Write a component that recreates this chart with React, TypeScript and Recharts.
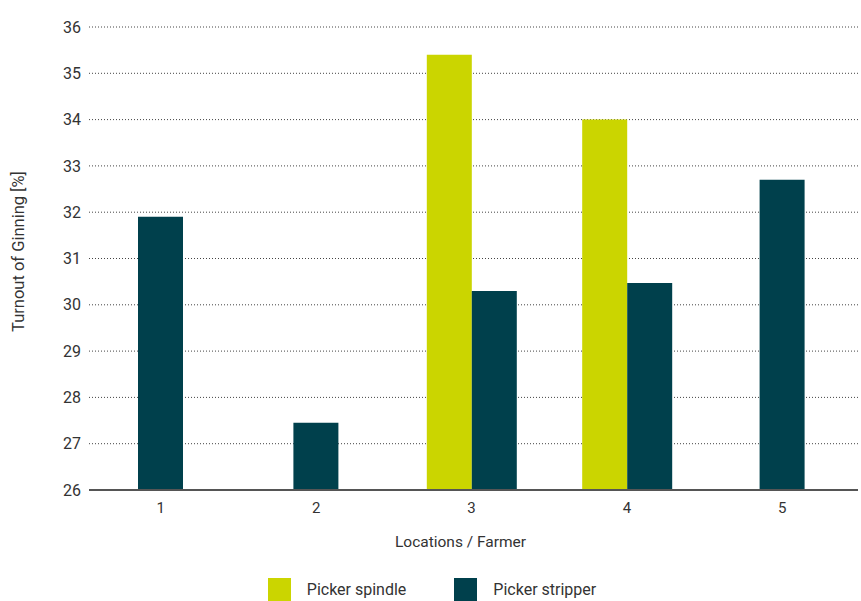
import React from 'react';
import { BarChart, Bar, XAxis, YAxis, CartesianGrid, Legend } from 'recharts';

const locations = ['1', '2', '3', '4', '5'];
const spindle = [null, null, 35.4, 34.0, null];
const stripper = [31.9, 27.45, 30.3, 30.47, 32.7];
const yTicks = [26, 27, 28, 29, 30, 31, 32, 33, 34, 35, 36];

const SPINDLE_COLOR = '#CBD500';
const STRIPPER_COLOR = '#00404C';
const TEXT_COLOR = '#333333';
const FONT = 'Roboto, "Noto Sans", sans-serif';

// bars sharing a location with a spindle bar sit side by side, lone ones get centered
const data = locations.map((loc, i) => ({
  location: loc,
  spindle: spindle[i],
  stripperPair: spindle[i] != null ? stripper[i] : null,
  stripperSolo: spindle[i] == null ? stripper[i] : null,
}));

const legendItems = [
  { name: 'Picker spindle', color: SPINDLE_COLOR },
  { name: 'Picker stripper', color: STRIPPER_COLOR },
];

function LegendContent() {
  return (
    <div style={{ height: 36, display: 'flex', justifyContent: 'center', alignItems: 'flex-end', gap: 48, paddingLeft: 6 }}>
      {legendItems.map((item) => (
        <div key={item.name} style={{ display: 'flex', alignItems: 'center' }}>
          <div style={{ width: 23, height: 23, backgroundColor: item.color, marginRight: 16 }} />
          <span style={{ fontFamily: FONT, fontSize: 16, color: TEXT_COLOR }}>{item.name}</span>
        </div>
      ))}
    </div>
  );
}

export default function App() {
  return (
    <div style={{ position: 'absolute', left: 0, top: 0, width: 861, height: 601, background: '#fff' }}>
      <BarChart
        width={861}
        height={601}
        data={data}
        margin={{ top: 27, right: 3, bottom: 0, left: 0 }}
        barGap={0}
      >
        <CartesianGrid vertical={false} stroke="#444" strokeDasharray="1 2" />
        <XAxis
          xAxisId="main"
          dataKey="location"
          height={75}
          padding={{ left: -6, right: -2 }}
          tickLine={false}
          axisLine={{ stroke: '#555', strokeWidth: 2 }}
          tickMargin={6}
          tick={{ fill: TEXT_COLOR, fontSize: 15, fontFamily: FONT }}
          label={{
            value: 'Locations / Farmer',
            position: 'insideBottom',
            offset: 18,
            dx: -13,
            fill: TEXT_COLOR,
            fontSize: 15.5,
            fontFamily: FONT,
          }}
        />
        <XAxis xAxisId="solo" dataKey="location" padding={{ left: -6, right: -2 }} hide />
        <YAxis
          width={89}
          domain={[26, 36]}
          ticks={yTicks}
          allowDataOverflow
          tickLine={false}
          axisLine={false}
          tick={{ fill: TEXT_COLOR, fontSize: 16, fontFamily: FONT }}
          label={{
            value: 'Turnout of Ginning [%]',
            angle: -90,
            position: 'center',
            dx: -26,
            dy: -7,
            fill: TEXT_COLOR,
            fontSize: 16.5,
            fontFamily: FONT,
          }}
        />
        <Legend verticalAlign="bottom" content={<LegendContent />} />
        <Bar xAxisId="main" dataKey="spindle" name="Picker spindle" fill={SPINDLE_COLOR} barSize={45} isAnimationActive={false} />
        <Bar xAxisId="main" dataKey="stripperPair" name="Picker stripper" fill={STRIPPER_COLOR} barSize={45} isAnimationActive={false} />
        <Bar xAxisId="solo" dataKey="stripperSolo" name="Picker stripper" fill={STRIPPER_COLOR} barSize={45} legendType="none" isAnimationActive={false} />
      </BarChart>
    </div>
  );
}
